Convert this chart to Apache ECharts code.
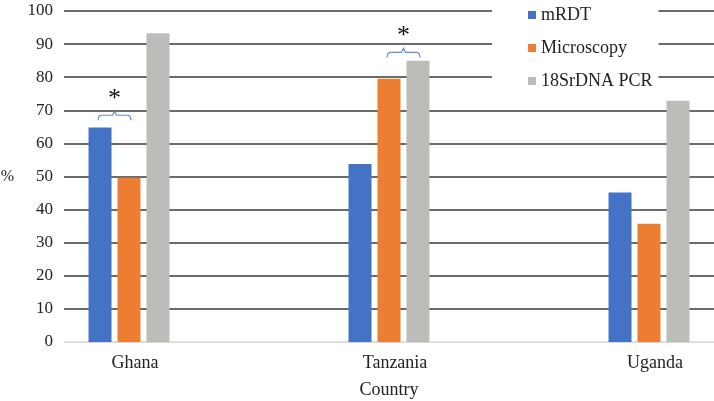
<!DOCTYPE html>
<html>
<head>
<meta charset="utf-8">
<script src="https://cdn.jsdelivr.net/npm/echarts@6/dist/echarts.min.js"></script>
<style>
  html, body { margin: 0; padding: 0; background: #fff; }
  #main { width: 714px; height: 401px; }
</style>
</head>
<body>
<div id="main"></div>
<script>
const countries = ['Ghana', 'Tanzania', 'Uganda']
const seriesNames = ['mRDT', 'Microscopy', '18SrDNA PCR']
const mrdt = [64.8, 53.8, 45.2]
const microscopy = [49.6, 79.5, 35.7]
const pcr = [93.3, 85.0, 72.9]
const yTicks = [0, 10, 20, 30, 40, 50, 60, 70, 80, 90, 100]
// significance brackets: country index, from series, to series, y level
const brackets = [
  {cat: 0, from: 0, to: 1, value: 68.5},
  {cat: 1, from: 1, to: 2, value: 87.5}
]

const colors = ['#4472C4', '#ED7D31', '#BCBDB9']
const font = 'Liberation Serif'
const barW = 23
const step = 29  // bar width + gap, px

function toData(arr) {
  return arr.map((v, i) => [i, v])
}

const chart = echarts.init(document.getElementById('main'))

chart.setOption({
  animation: false,
  grid: {left: 64, right: 0, top: 11, bottom: 59, outerBoundsMode: 'none'},
  legend: {
    orient: 'vertical',
    left: 492,
    top: 0,
    padding: [6, 6, 6, 36],
    backgroundColor: '#fff',
    itemWidth: 8,
    itemHeight: 8,
    itemGap: 15,
    icon: 'rect',
    data: seriesNames,
    textStyle: {fontFamily: font, fontSize: 18, color: '#222'}
  },
  xAxis: {
    type: 'value',
    min: -0.25,
    max: 2.25,
    name: 'Country',
    nameLocation: 'middle',
    nameGap: 39,
    nameTextStyle: {fontFamily: font, fontSize: 18, color: '#222'},
    axisLine: {show: true, lineStyle: {color: '#d9d9d9', width: 1}},
    axisTick: {show: false},
    splitLine: {show: false},
    axisLabel: {
      customValues: [0, 1, 2],
      formatter: v => countries[Math.round(v)],
      margin: 12,
      padding: [0, 0, 0, 12],
      fontFamily: font,
      fontSize: 18,
      color: '#222'
    }
  },
  yAxis: {
    type: 'value',
    min: yTicks[0],
    max: yTicks[yTicks.length - 1],
    interval: 10,
    name: '%',
    nameLocation: 'middle',
    nameRotate: 0,
    nameGap: 50,
    nameTextStyle: {fontFamily: font, fontSize: 16, color: '#222'},
    axisLine: {show: false},
    axisTick: {show: false},
    axisLabel: {margin: 11, fontFamily: font, fontSize: 17, color: '#222'},
    splitLine: {
      lineStyle: {
        color: ['#d9d9d9'].concat(yTicks.slice(1).map(() => '#3a3a3a')),
        width: 1.5
      }
    }
  },
  series: [
    {name: seriesNames[0], type: 'bar', data: toData(mrdt), barWidth: barW, barGap: '26%', itemStyle: {color: colors[0]}},
    {name: seriesNames[1], type: 'bar', data: toData(microscopy), barWidth: barW, barGap: '26%', itemStyle: {color: colors[1]}},
    {name: seriesNames[2], type: 'bar', data: toData(pcr), barWidth: barW, barGap: '26%', itemStyle: {color: colors[2]}},
    {
      type: 'custom',
      data: brackets.map(b => [b.cat, b.value, b.from, b.to]),
      z: 5,
      renderItem: function (params, api) {
        const p = api.coord([api.value(0), api.value(1)])
        const x1 = p[0] + (api.value(2) - 1) * step - 2
        const x2 = p[0] + (api.value(3) - 1) * step + 2
        const xm = (x1 + x2) / 2
        const y = p[1]
        return {
          type: 'group',
          children: [
            {
              type: 'polyline',
              shape: {points: [[x1, y + 5], [x1 + 1, y + 1], [x1 + 3, y], [xm - 2, y], [xm, y - 4], [xm + 2, y], [x2 - 3, y], [x2 - 1, y + 1], [x2, y + 5]]},
              style: {stroke: '#6a8ad0', lineWidth: 1.2, fill: null}
            },
            {
              type: 'text',
              style: {x: xm, y: y - 16, text: '*', fontFamily: font, fontSize: 26, fill: '#111', align: 'center', verticalAlign: 'middle'}
            }
          ]
        }
      }
    }
  ]
})
</script>
</body>
</html>
